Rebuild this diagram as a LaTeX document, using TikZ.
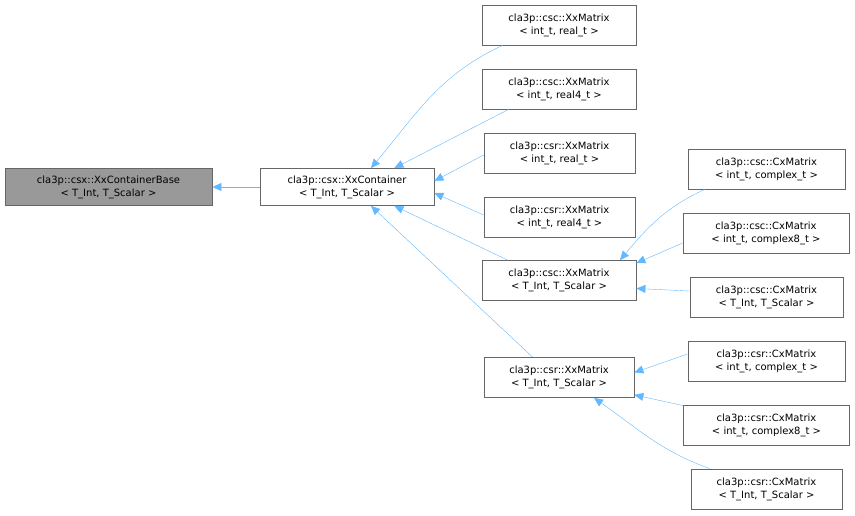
\documentclass[tikz,border=0pt]{standalone}
\usepackage{fontspec}
\setmainfont{DejaVu Sans}
\usetikzlibrary{arrows.meta,calc}
\definecolor{edgeColor}{RGB}{99,184,255}
\definecolor{boxBorder}{RGB}{102,102,102}
\tikzstyle{classBox} = [draw=boxBorder, fill=white, thick, align=center, inner sep=0pt, minimum height=40pt, font=\fontsize{10}{13}\selectfont]
\tikzstyle{baseBox} = [classBox, fill=black!40, minimum height=37pt]
\tikzstyle{inherit} = [color=edgeColor, thin, -{Triangle[length=9pt,width=8pt]}]
\newcommand{\classNode}[6]{\node [classBox, minimum width=#4pt] (#1) at (#2,#3) {#5\\#6};}

\begin{document}
\begin{tikzpicture}[x=1pt, y=1pt]
  \useasboundingbox (0,0) rectangle (855,515);
  \node [baseBox, minimum width=207pt] (base) at (108.5,328) {cla3p::csx::XxContainerBase\\< T\_Int, T\_Scalar >};
  \node [classBox, minimum width=174pt, minimum height=37pt] (cont) at (347,328) {cla3p::csx::XxContainer\\< T\_Int, T\_Scalar >};

  % first column
  \classNode{cscReal}{559}{490}{154}{cla3p::csc::XxMatrix}{< int\_t, real\_t >}
  \classNode{cscRealF}{559}{426}{154}{cla3p::csc::XxMatrix}{< int\_t, real4\_t >}
  \classNode{csrReal}{559.5}{362}{151}{cla3p::csr::XxMatrix}{< int\_t, real\_t >}
  \classNode{csrRealF}{559.5}{298}{151}{cla3p::csr::XxMatrix}{< int\_t, real4\_t >}
  \classNode{cscXx}{559}{234.5}{154}{cla3p::csc::XxMatrix}{< T\_Int, T\_Scalar >}
  \classNode{csrXx}{559}{137.5}{150}{cla3p::csr::XxMatrix}{< T\_Int, T\_Scalar >}

  % second column
  \classNode{cscCx}{766.5}{346}{157}{cla3p::csc::CxMatrix}{< int\_t, complex\_t >}
  \classNode{cscCxF}{766}{282}{166}{cla3p::csc::CxMatrix}{< int\_t, complex8\_t >}
  \classNode{cscCxT}{766.5}{218}{153}{cla3p::csc::CxMatrix}{< T\_Int, T\_Scalar >}
  \classNode{csrCx}{766.5}{154}{157}{cla3p::csr::CxMatrix}{< int\_t, complex\_t >}
  \classNode{csrCxF}{766.5}{90}{166}{cla3p::csr::CxMatrix}{< int\_t, complex8\_t >}
  \classNode{csrCxT}{766.5}{26}{151}{cla3p::csr::CxMatrix}{< T\_Int, T\_Scalar >}

  \draw [inherit] (cont.west) -- (base.east);

  \draw [inherit] ($(cscReal.south west)+(21,0)$) to[out=205,in=50] ($(cont.north)+(24,0)$);
  \draw [inherit] ($(cscRealF.south west)+(27,0)$) -- ($(cont.north east)+(-40,0)$);
  \draw [inherit] ($(csrReal.west)+(0,-2)$) -- ($(cont.east)+(0,6)$);
  \draw [inherit] ($(csrRealF.west)+(0,2)$) -- ($(cont.east)+(0,-6)$);
  \draw [inherit] ($(cscXx.north west)+(26,0)$) -- ($(cont.south east)+(-40,0)$);
  \draw [inherit] ($(csrXx.north west)+(49,0)$) -- ($(cont.south)+(24,0)$);

  \draw [inherit] ($(cscCx.south west)+(17,0)$) to[out=205,in=50] ($(cscXx.north)+(61,0)$);
  \draw [inherit] ($(cscCxF.west)+(0,-10)$) -- ($(cscXx.north east)+(0,-3)$);
  \draw [inherit] ($(cscCxT.west)+(0,6)$) -- ($(cscXx.east)+(0,-8)$);
  \draw [inherit] ($(csrCx.west)+(0,7)$) -- ($(csrXx.east)+(0,5)$);
  \draw [inherit] ($(csrCxF.north west)+(0,-1)$) -- ($(csrXx.south east)+(0,3)$);
  \draw [inherit] ($(csrCxT.north west)+(19,0)$) to[out=160,in=-35] ($(csrXx.south)+(35,0)$);
\end{tikzpicture}
\end{document}
